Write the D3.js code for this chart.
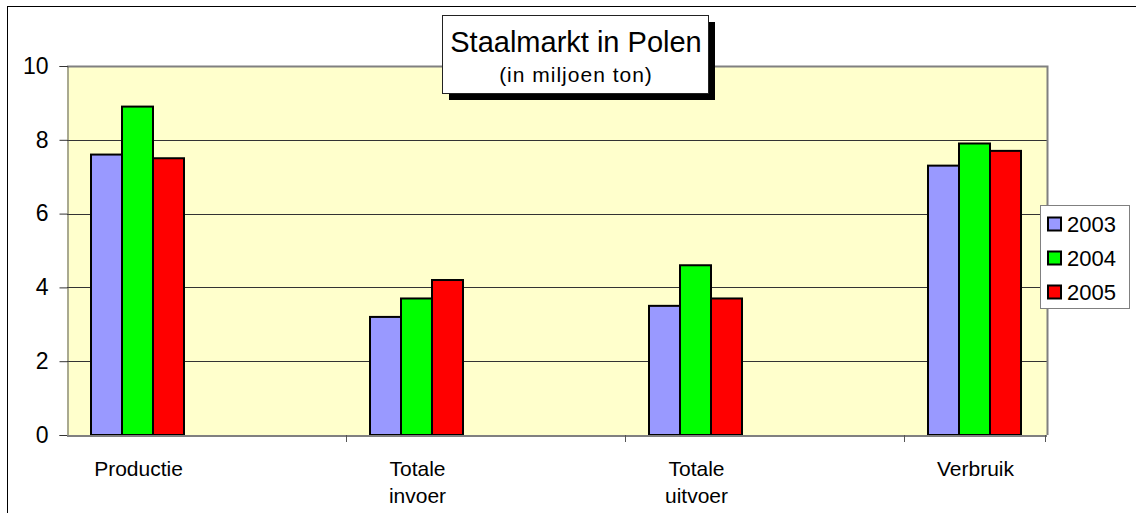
<html>
<head>
<script src="https://cdnjs.cloudflare.com/ajax/libs/d3/7.8.5/d3.min.js"></script>
<style>
  * { margin: 0; padding: 0; }
  body { background: #fff; }
  svg { font-family: "Liberation Sans", Arial, sans-serif; display: block; }
</style>
</head>
<body>
<svg id="viz"></svg>
<script>
  // chart data
  var categories = ["Productie", "Totale\ninvoer", "Totale\nuitvoer", "Verbruik"];
  var years = ["2003", "2004", "2005"];
  var colors = ["#9999FF", "#00FF00", "#FF0000"];
  var v2003 = [7.6, 3.2, 3.5, 7.3];
  var v2004 = [8.9, 3.7, 4.6, 7.9];
  var v2005 = [7.5, 4.2, 3.7, 7.7];
  var yTicks = [0, 2, 4, 6, 8, 10];

  var series = [v2003, v2004, v2005];
  var w = 1136, h = 513;

  var viz = d3.select("#viz").attr("width", w).attr("height", h);

  // outer chart border (runs off to the right and bottom)
  viz.append("rect")
    .attr("x", 7.5).attr("y", 6.5)
    .attr("width", w + 10).attr("height", h + 10)
    .style("fill", "none").style("stroke", "black").style("stroke-width", 1);

  var pLeft = 67, pRight = 1047, pTop = 66, pBottom = 435;

  var y = d3.scaleLinear().domain([0, 10]).range([pBottom, pTop]);

  // category bands, step 279, bar group 93 wide
  var x = d3.scaleBand()
    .domain(categories)
    .range([91, 91 + 3 * 279 + 93])
    .paddingInner(186 / 279)
    .paddingOuter(0);
  var xs = d3.scaleBand().domain(years).range([0, x.bandwidth()]);

  // plot area
  viz.append("rect")
    .attr("x", pLeft).attr("y", pTop)
    .attr("width", pRight - pLeft).attr("height", pBottom - pTop)
    .style("fill", "#FFFFCC").style("stroke", "none");

  // gridlines
  viz.selectAll(".grid")
    .data(yTicks.filter(function (t) { return t > 0 && t < 10; }))
    .enter().append("line")
    .attr("x1", pLeft).attr("x2", pRight)
    .attr("y1", function (d) { return Math.round(y(d)) + 0.5; })
    .attr("y2", function (d) { return Math.round(y(d)) + 0.5; })
    .style("stroke", "#333").style("stroke-width", 1);

  // plot area border top/right (gray)
  viz.append("path")
    .attr("d", "M" + pLeft + "," + (pTop + 0.5) + "H" + (pRight + 0.5) + "V" + pBottom)
    .style("fill", "none").style("stroke", "#808080").style("stroke-width", 2);

  // bars
  for (var s = 0; s < series.length; s++) {
    viz.selectAll(".bar" + s)
      .data(categories)
      .enter().append("rect")
      .attr("x", function (d) { return x(d) + xs(years[s]); })
      .attr("y", function (d, i) { return y(series[s][i]); })
      .attr("width", xs.bandwidth())
      .attr("height", function (d, i) { return pBottom - y(series[s][i]); })
      .style("fill", colors[s])
      .style("stroke", "black")
      .style("stroke-width", 2);
  }

  // y axis
  var yAxis = d3.axisLeft(y).tickValues(yTicks).tickSize(8).tickPadding(11)
    .tickFormat(d3.format("d"));
  var ya = viz.append("g").attr("transform", "translate(" + (pLeft + 0.5) + ",0)").call(yAxis);
  ya.select(".domain").style("stroke", "#555").attr("stroke-width", 1);
  ya.selectAll(".tick line").style("stroke", "#333");
  ya.selectAll("text").style("font-size", "23px").style("fill", "black")
    .style("font-family", "'Liberation Sans', Arial, sans-serif");

  // x axis line and separator ticks
  viz.append("line")
    .attr("x1", pLeft).attr("x2", pRight)
    .attr("y1", pBottom + 1).attr("y2", pBottom + 1)
    .style("stroke", "#808080").style("stroke-width", 2);
  var sepTicks = categories.map(function (d) { return x(d) - 24; }).slice(1);
  sepTicks.push(pRight - 2);
  viz.selectAll(".xtick")
    .data(sepTicks)
    .enter().append("line")
    .attr("x1", function (d) { return Math.round(d) + 0.5; })
    .attr("x2", function (d) { return Math.round(d) + 0.5; })
    .attr("y1", pBottom).attr("y2", pBottom + 7)
    .style("stroke", "#555").style("stroke-width", 1);

  // category labels
  categories.forEach(function (c) {
    var cx = x(c) + x.bandwidth() / 2 + 1;
    var t = viz.append("text")
      .attr("x", cx)
      .attr("y", 476)
      .attr("text-anchor", "middle")
      .style("font-size", "21px");
    c.split("\n").forEach(function (line, i) {
      t.append("tspan")
        .attr("x", cx)
        .attr("dy", i === 0 ? 0 : 27)
        .text(line);
    });
  });

  // title box with shadow
  var tb = { x: 442, y: 15, w: 266, h: 78 };
  viz.append("rect")
    .attr("x", tb.x + 7).attr("y", tb.y + 7)
    .attr("width", tb.w).attr("height", tb.h)
    .style("fill", "black");
  viz.append("rect")
    .attr("x", tb.x + 0.5).attr("y", tb.y + 0.5)
    .attr("width", tb.w).attr("height", tb.h)
    .style("fill", "white").style("stroke", "#222").style("stroke-width", 1);
  viz.append("text")
    .attr("x", tb.x + tb.w / 2 + 1).attr("y", 52)
    .attr("text-anchor", "middle")
    .style("font-size", "29px")
    .text("Staalmarkt in Polen");
  viz.append("text")
    .attr("x", tb.x + tb.w / 2 + 1).attr("y", 82)
    .attr("text-anchor", "middle")
    .style("font-size", "21px")
    .style("letter-spacing", "1px")
    .text("(in miljoen ton)");

  // legend
  var lg = viz.append("g").attr("transform", "translate(1040,205)");
  lg.append("rect")
    .attr("x", 0.5).attr("y", 0.5).attr("width", 89).attr("height", 103)
    .style("fill", "white").style("stroke", "#808080").style("stroke-width", 1);
  years.forEach(function (yr, i) {
    var cy = 19 + i * 34;
    lg.append("rect")
      .attr("x", 8).attr("y", cy - 6.5)
      .attr("width", 13).attr("height", 13)
      .style("fill", colors[i]).style("stroke", "black").style("stroke-width", 2);
    lg.append("text")
      .attr("x", 27).attr("y", cy + 8)
      .style("font-size", "22px")
      .text(yr);
  });
</script>
</body>
</html>
